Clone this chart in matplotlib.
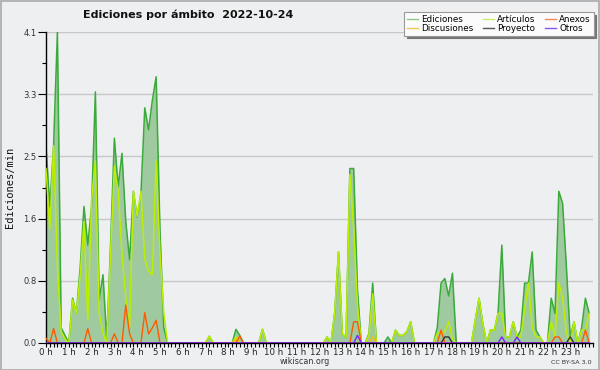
import numpy as np
import matplotlib
matplotlib.use("Agg")
import matplotlib.pyplot as plt
from matplotlib.patches import Rectangle
from matplotlib.lines import Line2D

# 10-minute buckets, 0h .. 23h50
n_points = 144
hours = [f"{h} h" for h in range(24)]

def series(pairs):
    arr = [0.0] * n_points
    for k, v in pairs.items():
        arr[k] = v
    return arr

ediciones = series({
    0: 2.6, 1: 1.8, 2: 2.6, 3: 4.1, 4: 0.2, 5: 0.1, 6: 0.0, 7: 0.59, 8: 0.39, 9: 1.0,
    10: 1.8, 11: 1.29, 12: 1.8, 13: 3.31, 14: 0.57, 15: 0.9, 16: 0.04, 17: 1.3, 18: 2.7,
    19: 2.06, 20: 2.5, 21: 1.6, 22: 1.1, 23: 2.0, 24: 1.66, 25: 1.97, 26: 3.1, 27: 2.81,
    28: 3.2, 29: 3.51, 30: 1.5, 31: 0.2,
    43: 0.09, 50: 0.18, 51: 0.1, 57: 0.18,
    74: 0.08, 76: 0.4, 77: 1.2, 78: 0.12, 79: 0.08, 80: 2.3, 81: 2.3, 82: 0.7,
    85: 0.12, 86: 0.79, 90: 0.08, 92: 0.17, 93: 0.1, 94: 0.1, 95: 0.15, 96: 0.28,
    103: 0.2, 104: 0.79, 105: 0.85, 106: 0.62, 107: 0.92,
    113: 0.3, 114: 0.59, 115: 0.25, 117: 0.17, 118: 0.17, 119: 0.39, 120: 1.29,
    121: 0.08, 122: 0.08, 123: 0.28, 124: 0.08, 125: 0.17, 126: 0.79, 127: 0.79,
    128: 1.2, 129: 0.17, 130: 0.08,
    133: 0.59, 134: 0.39, 135: 2.0, 136: 1.84, 137: 1.0, 138: 0.08, 139: 0.28,
    141: 0.2, 142: 0.59, 143: 0.39,
})

articulos = series({
    0: 2.3, 1: 1.5, 2: 2.6, 3: 1.0, 4: 0.15, 5: 0.05, 7: 0.57, 8: 0.39, 9: 0.9,
    10: 1.6, 11: 0.3, 12: 1.9, 13: 2.4, 14: 0.39, 15: 0.13, 17: 1.2, 18: 2.33,
    19: 2.0, 20: 1.18, 21: 0.6, 22: 0.2, 23: 2.0, 24: 1.67, 25: 2.0, 26: 1.1,
    27: 0.95, 28: 0.9, 29: 2.4, 30: 1.2, 31: 0.4,
    43: 0.09, 50: 0.08, 57: 0.18,
    74: 0.08, 76: 0.4, 77: 1.2, 78: 0.12, 79: 0.08, 80: 2.22, 81: 1.5, 82: 0.5,
    85: 0.1, 86: 0.65, 92: 0.17, 93: 0.1, 94: 0.1, 95: 0.15, 96: 0.28,
    103: 0.13, 104: 0.13, 105: 0.15, 106: 0.28, 107: 0.05,
    113: 0.3, 114: 0.59, 115: 0.25, 117: 0.17, 118: 0.17, 119: 0.39, 120: 0.39,
    121: 0.08, 122: 0.08, 123: 0.28, 124: 0.08, 125: 0.08, 126: 0.45, 127: 0.79,
    128: 0.2, 129: 0.08, 130: 0.08,
    133: 0.28, 134: 0.08, 135: 0.79, 136: 0.6, 137: 0.13, 139: 0.28,
    141: 0.17, 142: 0.17, 143: 0.39,
})

anexos = series({
    0: 0.06, 2: 0.19, 11: 0.19, 18: 0.12, 21: 0.5, 22: 0.12, 26: 0.4, 27: 0.12,
    28: 0.2, 29: 0.3, 51: 0.09, 81: 0.28, 82: 0.28, 104: 0.17, 134: 0.08,
    135: 0.08, 142: 0.17,
})
discusiones = series({50: 0.05, 86: 0.08})
proyecto = series({105: 0.08, 106: 0.08, 138: 0.08})
otros = series({82: 0.1, 120: 0.08, 124: 0.08})

t = np.arange(n_points) / 6.0

bg = "#eeeff0"
fig = plt.figure(figsize=(6, 3.7), dpi=100, facecolor=bg)
ax = fig.add_axes([46 / 600, 1 - 343 / 370, (593 - 46) / 600, (343 - 32) / 370])
ax.set_facecolor(bg)

ymax = 4.1
major = np.linspace(0, ymax, 6)
for y in major[1:]:
    ax.axhline(y, color="#c8c8c8", lw=1.0, zorder=0)

ax.fill_between(t, 0, ediciones, color="#9fca9f", lw=0, zorder=1)
ax.plot(t, ediciones, color="#3aaa3a", lw=1.1, zorder=2)
ax.plot(t, articulos, color="#bbee00", lw=1.1, zorder=3)
ax.plot(t, discusiones, color="#ffbb00", lw=1.0, zorder=4)
ax.plot(t, anexos, color="#ff5a00", lw=1.0, zorder=5)
ax.plot(t, proyecto, color="#333333", lw=1.0, zorder=6)
ax.plot(t, otros, color="#7a22ff", lw=1.0, zorder=7)

ax.set_xlim(0, 24)
ax.set_ylim(0, ymax)
for s in ("top", "right"):
    ax.spines[s].set_visible(False)
ax.spines["left"].set_linewidth(1.0)
ax.spines["bottom"].set_linewidth(1.0)

ax.set_xticks(np.arange(24))
ax.set_xticklabels(hours, fontsize=6.2, color="#222222")
ax.set_xticks(np.arange(0, 24.01, 1 / 6), minor=True)
ax.tick_params(axis="x", which="both", length=3, width=0.8, pad=0.5, direction="out")

ax.set_yticks(major)
ax.set_yticklabels([f"{v:.1f}" for v in major], fontsize=6, color="#333333")
ax.set_yticks(np.arange(0, ymax + 0.01, ymax / 10), minor=True)
ax.tick_params(axis="y", which="major", length=6, width=0.8, pad=1)
ax.tick_params(axis="y", which="minor", length=3, width=0.8)

fig.text(10 / 600, 1 - 187 / 370, "Ediciones/min", rotation=90, ha="center",
         va="center", fontsize=7.5, family="DejaVu Sans Mono", color="#111111")
fig.text(188 / 600, 1 - 15 / 370, "Ediciones por ámbito  2022-10-24", ha="center",
         va="center", fontsize=8, fontweight="bold", color="#111111")
fig.text(305 / 600, 1 - 362 / 370, "wikiscan.org", ha="center", va="center",
         fontsize=5.8, color="#333333")
fig.text(592 / 600, 1 - 362 / 370, "CC BY-SA 3.0", ha="right", va="center",
         fontsize=4.6, color="#333333")

handles = [
    Line2D([], [], color="#88cc88", lw=1),
    Line2D([], [], color="#eecc55", lw=1),
    Line2D([], [], color="#ccee66", lw=1),
    Line2D([], [], color="#555555", lw=1),
    Line2D([], [], color="#ee8855", lw=1),
    Line2D([], [], color="#8855ee", lw=1),
]
labels = ["Ediciones", "Discusiones", "Artículos", "Proyecto", "Anexos", "Otros"]
leg = fig.legend(handles, labels, ncol=3, fontsize=6.3, loc="upper left",
                 bbox_to_anchor=(404 / 600, 1 - 12 / 370), frameon=True,
                 fancybox=False, shadow={"color": "#777777", "alpha": 1.0},
                 handlelength=1.3, handletextpad=0.4,
                 columnspacing=1.0, labelspacing=0.05, borderpad=0.3,
                 borderaxespad=0)
leg.get_frame().set_edgecolor("#999999")
leg.get_frame().set_facecolor("#fbfbfb")
leg.get_frame().set_alpha(1.0)
leg.get_frame().set_linewidth(0.8)
leg.set_zorder(10)

fig.patches.append(Rectangle((0.001, 0.001), 0.997, 0.997, transform=fig.transFigure,
                             fill=False, edgecolor="#aaaaaa", lw=1.2))

fig.savefig("out.png", dpi=100, facecolor=bg)
